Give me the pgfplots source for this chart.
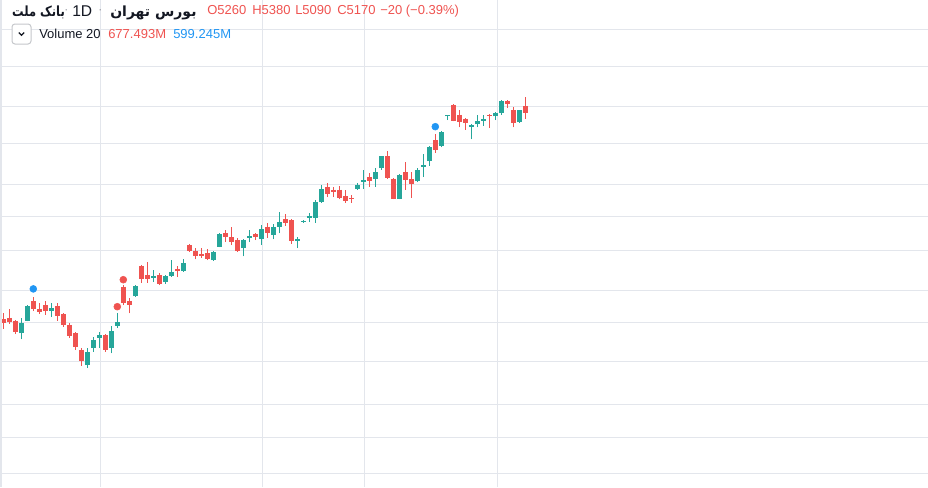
\documentclass[border=0pt]{standalone}
\usepackage{pgfplots}
\pgfplotsset{compat=1.18}
\usepackage{fontspec}
\setmainfont{Liberation Sans}
\newfontfamily\fa[Script=Arabic]{DejaVu Sans}
\TeXXeTstate=1
\definecolor{up}{HTML}{26A69A}
\definecolor{dn}{HTML}{EF5350}
\definecolor{bl}{HTML}{2196F3}
\definecolor{gridc}{HTML}{E3E6EC}
\definecolor{txt}{HTML}{131722}
\definecolor{sep}{HTML}{9598A1}
% #1 index, #2 open, #3 high, #4 low, #5 close
\newcommand{\U}[5]{%
 \addplot[up, line width=0.75pt, mark=none] coordinates {(#1,#4) (#1,#3)};
 \addplot[up, line width=3.9pt, mark=none, line cap=butt] coordinates {(#1,#2) (#1,#5)};}
\newcommand{\D}[5]{%
 \addplot[dn, line width=0.75pt, mark=none] coordinates {(#1,#4) (#1,#3)};
 \addplot[dn, line width=3.9pt, mark=none, line cap=butt] coordinates {(#1,#2) (#1,#5)};}
\begin{document}
\begin{tikzpicture}
\begin{axis}[
 at={(0,0)}, anchor=north west,
 width=696pt, height=365.25pt, scale only axis,
 xmin=-0.55, xmax=154.12, ymin=115.5, ymax=6690,
 axis line style={draw=none},
 xtick={16.23,43.23,60.17,82.33},
 ytick={300.5,786.5,1232,1816.5,2333.5,2775,3305.6,3774,4206,4755.5,5249.6,5799,6294},
 xticklabels={}, yticklabels={},
 major tick length=0pt,
 grid=major, major grid style={draw=gridc, line width=0.75pt},
]
\D{0}{2380}{2460}{2250}{2330}
\D{1}{2400}{2520}{2320}{2340}
\D{2}{2360}{2370}{2180}{2210}
\U{3}{2190}{2400}{2110}{2330}
\U{4}{2360}{2570}{2350}{2560}
\D{5}{2630}{2680}{2490}{2520}
\D{6}{2520}{2600}{2450}{2480}
\D{7}{2570}{2630}{2440}{2490}
\U{8}{2490}{2600}{2410}{2530}
\D{9}{2560}{2600}{2360}{2420}
\D{10}{2450}{2460}{2280}{2300}
\D{11}{2300}{2330}{2130}{2150}
\D{12}{2190}{2210}{1970}{2010}
\D{13}{1970}{1990}{1750}{1820}
\U{14}{1760}{1990}{1720}{1940}
\U{15}{1990}{2140}{1940}{2100}
\U{16}{2130}{2210}{1990}{2170}
\D{17}{2170}{2180}{1940}{1970}
\U{18}{1990}{2290}{1920}{2220}
\U{19}{2290}{2460}{2260}{2340}
\D{20}{2820}{2840}{2570}{2600}
\D{21}{2630}{2670}{2460}{2570}
\U{22}{2690}{2840}{2680}{2830}
\D{23}{3100}{3110}{2870}{2920}
\D{24}{2980}{3150}{2870}{2920}
\U{25}{2940}{3050}{2880}{2960}
\D{26}{2980}{3000}{2840}{2860}
\U{27}{2880}{2980}{2860}{2960}
\U{28}{2960}{3180}{2955}{3020}
\D{29}{3060}{3100}{2950}{3030}
\U{30}{3030}{3190}{3020}{3140}
\D{31}{3380}{3400}{3290}{3300}
\D{32}{3300}{3340}{3190}{3230}
\D{33}{3260}{3340}{3210}{3230}
\D{34}{3270}{3330}{3180}{3190}
\U{35}{3180}{3300}{3170}{3290}
\U{36}{3360}{3540}{3350}{3530}
\D{37}{3540}{3590}{3420}{3490}
\D{38}{3490}{3630}{3380}{3420}
\D{39}{3450}{3480}{3290}{3300}
\U{40}{3340}{3460}{3230}{3450}
\U{41}{3480}{3590}{3420}{3500}
\D{42}{3530}{3540}{3450}{3490}
\U{43}{3460}{3650}{3380}{3600}
\D{44}{3630}{3680}{3480}{3540}
\U{45}{3520}{3670}{3460}{3630}
\U{46}{3630}{3830}{3540}{3690}
\D{47}{3730}{3800}{3640}{3680}
\D{48}{3720}{3740}{3400}{3440}
\U{49}{3440}{3490}{3340}{3460}
\U{50}{3690}{3720}{3685}{3705}
\U{51}{3750}{3810}{3690}{3770}
\U{52}{3750}{3990}{3680}{3960}
\U{53}{3960}{4190}{3950}{4140}
\D{54}{4160}{4220}{4030}{4070}
\D{55}{4130}{4170}{4030}{4100}
\D{56}{4130}{4180}{4000}{4020}
\D{57}{4040}{4130}{3950}{3970}
\D{58}{4020}{4060}{3950}{4010}
\U{59}{4140}{4220}{4130}{4190}
\U{60}{4230}{4390}{4140}{4260}
\D{61}{4300}{4350}{4170}{4240}
\U{62}{4280}{4420}{4170}{4370}
\U{63}{4420}{4590}{4400}{4580}
\D{64}{4580}{4650}{4280}{4290}
\D{65}{4280}{4290}{4000}{4010}
\U{66}{4010}{4340}{4000}{4330}
\D{67}{4370}{4500}{4130}{4260}
\D{68}{4270}{4370}{4020}{4200}
\U{69}{4240}{4420}{4230}{4400}
\U{70}{4440}{4610}{4300}{4460}
\U{71}{4510}{4720}{4450}{4710}
\D{72}{4800}{4880}{4630}{4670}
\U{73}{4720}{4920}{4700}{4910}
\U{74}{5120}{5140}{5070}{5135}
\D{75}{5270}{5280}{5050}{5060}
\D{76}{5140}{5200}{4970}{5040}
\D{77}{5090}{5100}{4940}{5030}
\U{78}{4980}{5020}{4810}{5000}
\U{79}{5010}{5140}{4970}{5060}
\U{80}{5060}{5140}{4990}{5090}
\D{81}{5140}{5145}{4960}{5120}
\U{82}{5120}{5180}{5070}{5160}
\U{83}{5160}{5340}{5140}{5320}
\D{84}{5330}{5340}{5230}{5280}
\D{85}{5200}{5250}{4970}{5030}
\U{86}{5040}{5210}{5030}{5200}
\D{87}{5260}{5380}{5090}{5170}
\addplot[only marks, mark=*, mark size=2.6pt, color=bl, mark options={draw=bl, fill=bl}] coordinates {(5,2790) (72,4980)};
\addplot[only marks, mark=*, mark size=2.6pt, color=dn, mark options={draw=dn, fill=dn}] coordinates {(19,2550) (20,2914)};
\end{axis}
\begin{scope}[x=0.75pt, y=-0.75pt]
\draw[draw=gridc, line width=1.5pt] (1,0) -- (1,487);
\node[anchor=base west, inner sep=0pt, txt, xscale=0.82, font=\fa\bfseries\fontsize{10.5}{12}\selectfont] at (12,16.5) {\beginR بانک ملت\endR};
\node[anchor=base west, inner sep=0pt, sep, font=\fontsize{9}{10}\selectfont] at (64,13) {\textperiodcentered};
\node[anchor=base west, inner sep=0pt, txt, font=\fontsize{11.7}{13}\selectfont] at (72,16.5) {1D};
\node[anchor=base west, inner sep=0pt, sep, font=\fontsize{9}{10}\selectfont] at (98,13) {\textperiodcentered};
\node[anchor=base west, inner sep=0pt, txt, font=\fa\bfseries\fontsize{10.5}{12}\selectfont] at (110,16.5) {\beginR بورس تهران\endR};
\begin{scope}[every node/.style={anchor=base west, inner sep=0pt, dn, font=\fontsize{9.75}{12}\selectfont}]
\node at (207,14) {O5260};
\node at (252,14) {H5380};
\node at (295,14) {L5090};
\node at (337,14) {C5170};
\node at (380,14) {−20 (−0.39\%)};
\end{scope}
\draw[draw=gridc!70!gray, line width=0.75pt, rounded corners=2.2pt, fill=white] (12,24) rectangle (31,44);
\draw[txt, line width=0.9pt] (18.8,32.6) -- (21.5,35.3) -- (24.2,32.6);
\node[anchor=base west, inner sep=0pt, txt, font=\fontsize{9.75}{12}\selectfont] at (39,38.3) {Volume 20};
\node[anchor=base west, inner sep=0pt, dn, font=\fontsize{9.75}{12}\selectfont] at (108,38.3) {677.493M};
\node[anchor=base west, inner sep=0pt, bl, font=\fontsize{9.75}{12}\selectfont] at (173,38.3) {599.245M};
\pgfresetboundingbox
\path[use as bounding box] (0,0) rectangle (928,487);
\end{scope}
\end{tikzpicture}
\end{document}
